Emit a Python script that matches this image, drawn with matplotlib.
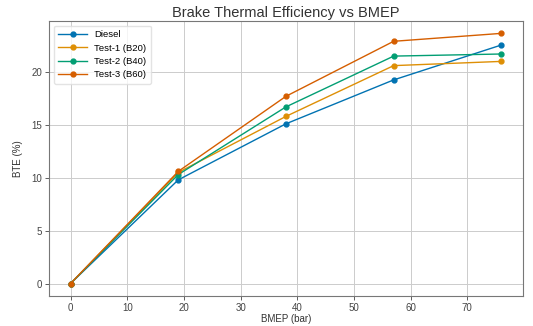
import matplotlib
matplotlib.use("Agg")
import matplotlib.pyplot as plt

bmep = [0, 19, 38, 57, 76]
diesel = [0, 9.8, 15.1, 19.25, 22.55]
test1 = [0, 10.5, 15.8, 20.6, 21.0]
test2 = [0, 10.3, 16.7, 21.5, 21.7]
test3 = [0, 10.6, 17.7, 22.9, 23.65]
labels = ["Diesel", "Test-1 (B20)", "Test-2 (B40)", "Test-3 (B60)"]
colors = ["#0173b2", "#de8f05", "#029e73", "#d55e00"]

plt.rcParams['font.family'] = ['Liberation Sans', 'DejaVu Sans']

fig = plt.figure(figsize=(5.33, 3.26), dpi=100)
ax = fig.add_axes([0.092, 0.092, 0.889, 0.844])
for ys, lab, c in zip([diesel, test1, test2, test3], labels, colors):
    ax.plot(bmep, ys, marker='o', markersize=3.5, linewidth=1.0, color=c, label=lab)

ax.set_title("Brake Thermal Efficiency vs BMEP", fontsize=10.5, color='#333333', pad=2.5)
ax.set_xlabel("BMEP (bar)", fontsize=7, color='#333333', labelpad=1)
ax.set_ylabel("BTE (%)", fontsize=7, color='#333333', labelpad=6)
ax.tick_params(labelsize=7, colors='#444444', length=3, width=0.6, pad=2)
ax.set_xticks([0, 10, 20, 30, 40, 50, 60, 70])
ax.set_yticks([0, 5, 10, 15, 20])
ax.grid(True, color='#cccccc', linewidth=0.7)
for s in ax.spines.values():
    s.set_color('#777777')
    s.set_linewidth(0.8)
leg = ax.legend(loc='upper left', fontsize=6.8, frameon=True, framealpha=0.8, edgecolor='#dddddd',
                handlelength=3.0, labelspacing=0.45, borderpad=0.5)
fig.savefig("out.png", dpi=100)
